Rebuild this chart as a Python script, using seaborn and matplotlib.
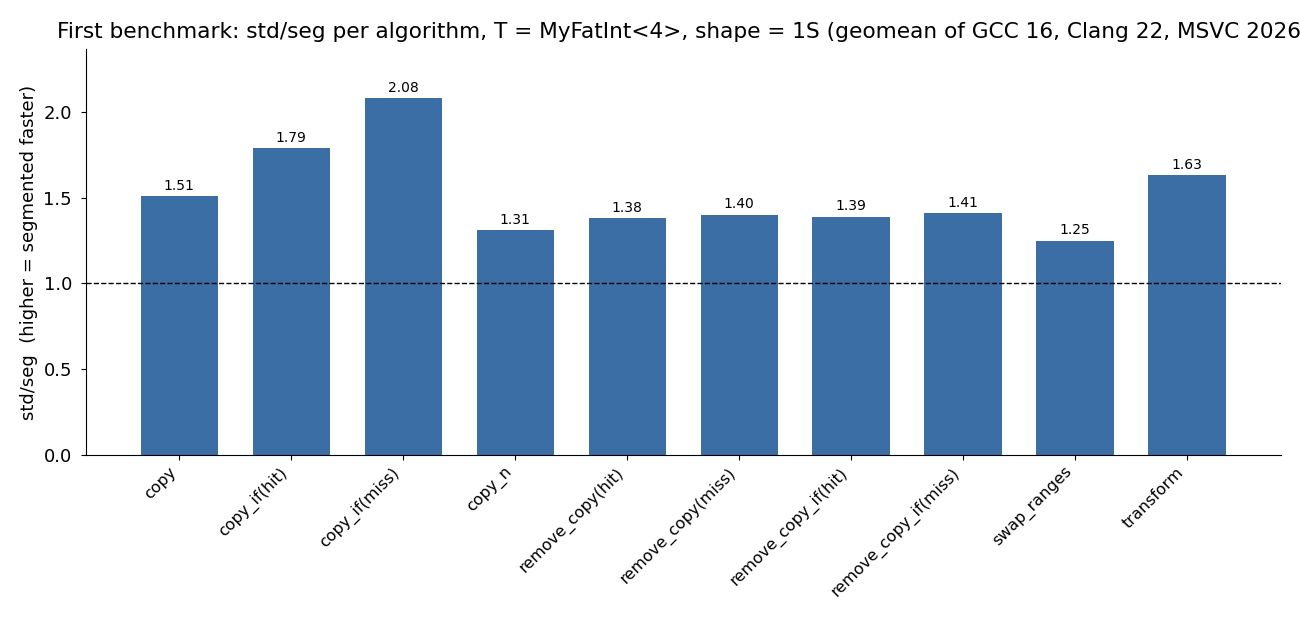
import seaborn as sns
import matplotlib.pyplot as plt
import pandas as pd

algorithms = ["copy", "copy_if(hit)", "copy_if(miss)", "copy_n",
              "remove_copy(hit)", "remove_copy(miss)", "remove_copy_if(hit)",
              "remove_copy_if(miss)", "swap_ranges", "transform"]
ratios = [1.51, 1.79, 2.08, 1.31, 1.38, 1.40, 1.39, 1.41, 1.25, 1.63]

df = pd.DataFrame({"algorithm": algorithms, "ratio": ratios})

sns.set_style("ticks", {"axes.edgecolor": "black", "text.color": "black",
                        "axes.labelcolor": "black", "xtick.color": "black",
                        "ytick.color": "black"})
plt.rcParams['font.family'] = ['DejaVu Sans']

fig = plt.figure(figsize=(13, 6.24), dpi=100)
ax = fig.add_axes([0.066, 0.271, 0.919, 0.6505])

sns.barplot(data=df, x="algorithm", y="ratio", color="#3b6ea5",
            saturation=1, width=0.69, edgecolor="none", ax=ax)

# value labels over each bar
for i, v in enumerate(ratios):
    ax.text(i, v + 0.02, f"{v:.2f}", ha="center", va="bottom", fontsize=10)

ax.axhline(1.0, color="black", linestyle="--", linewidth=1, zorder=5)

ax.set_xlim(-0.835, 9.835)
ax.set_ylim(0, 2.367)
ax.set_xlabel("")
ax.set_ylabel("std/seg  (higher = segmented faster)", fontsize=13, labelpad=4)
ax.set_title("First benchmark: std/seg per algorithm, T = MyFatInt<4>, shape = 1S "
             "(geomean of GCC 16, Clang 22, MSVC 2026)", fontsize=15.6, pad=8)
ax.tick_params(axis="y", labelsize=13, length=3.5, pad=6.5)
ax.tick_params(axis="x", labelsize=11.5, length=3.5)
plt.setp(ax.get_xticklabels(), rotation=45, ha="right")
sns.despine(ax=ax)

fig.savefig("out.png", dpi=100)
